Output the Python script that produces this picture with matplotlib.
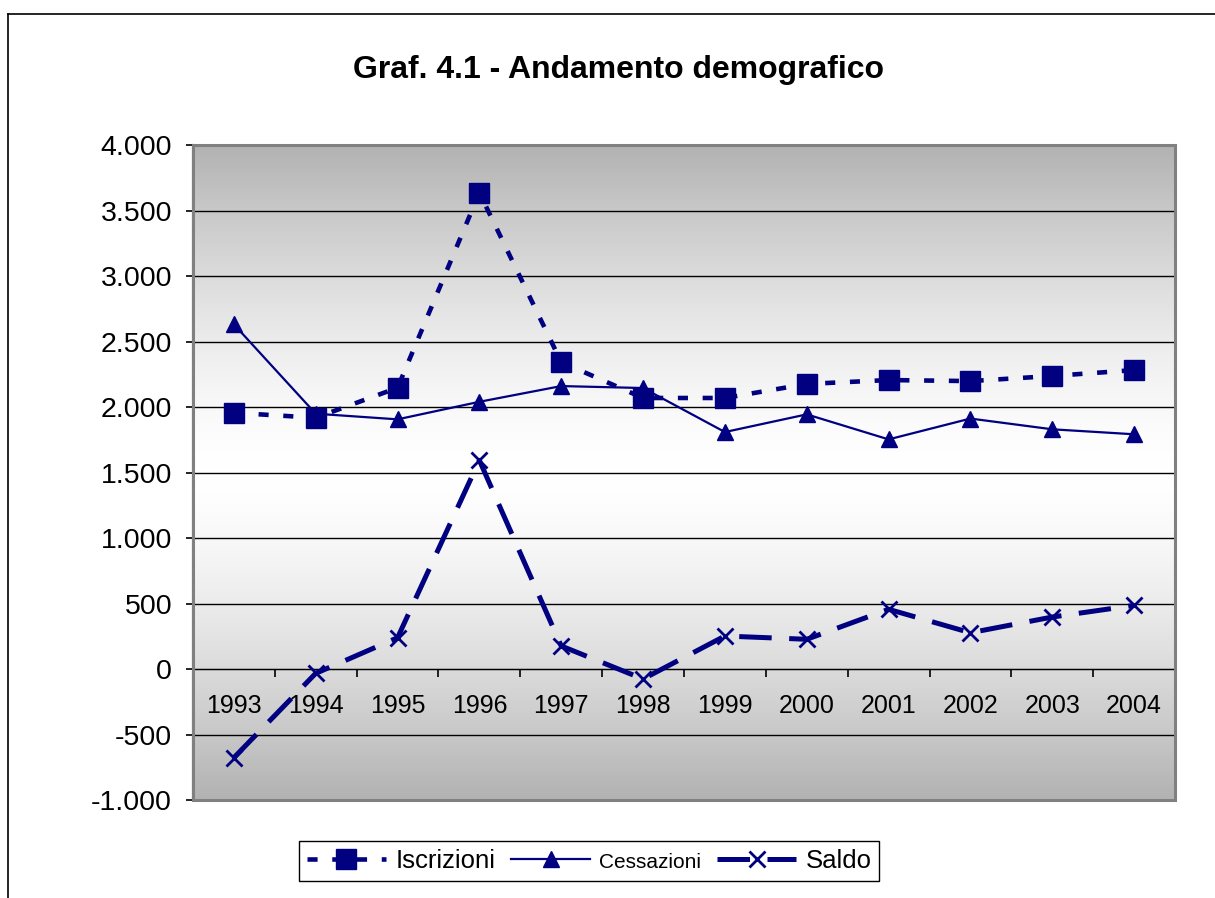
import numpy as np
import matplotlib
matplotlib.use('Agg')
import matplotlib.pyplot as plt
from matplotlib.patches import Rectangle
from matplotlib.lines import Line2D
from matplotlib.ticker import FuncFormatter, FixedLocator

plt.rcParams['font.family'] = ['Liberation Sans', 'DejaVu Sans']

# Dati
anni = ['1993', '1994', '1995', '1996', '1997', '1998',
        '1999', '2000', '2001', '2002', '2003', '2004']
iscrizioni = [1956, 1918, 2147, 3636, 2343, 2069, 2069, 2176, 2206, 2198, 2237, 2282]
cessazioni = [2631, 1949, 1906, 2040, 2160, 2145, 1809, 1944, 1753, 1912, 1830, 1792]
saldo = [-677, -33, 239, 1593, 176, -76, 252, 227, 456, 277, 397, 486]

navy = '#000080'

fig = plt.figure(figsize=(12.15, 8.98), dpi=100)
ax = fig.add_axes([0.1588, 0.1091, 0.8083, 0.7294])

# cornice del grafico (tagliata a destra e in basso)
fig.add_artist(Line2D([8 / 1215, 8 / 1215], [0, 1 - 14 / 898], color='black', lw=1.2))
fig.add_artist(Line2D([8 / 1215, 1], [1 - 14 / 898, 1 - 14 / 898], color='black', lw=1.2))

x = np.arange(len(anni))
ax.set_xlim(-0.5, len(anni) - 0.5)
ax.set_ylim(-1000, 4000)

# sfondo sfumato: grigio ai bordi, bianco al centro
grad = 1 - np.abs(np.linspace(-1, 1, 256))[:, None] ** 1.5
ax.imshow(grad, extent=[-0.5, len(anni) - 0.5, -1000, 4000], aspect='auto',
          cmap=matplotlib.colors.LinearSegmentedColormap.from_list('g', ['#b2b2b2', '#ffffff']),
          zorder=0, interpolation='bicubic')

for yv in range(-500, 4001, 500):
    ax.axhline(yv, color='black', lw=1, zorder=1)

ax.plot(x, iscrizioni, color=navy, lw=3.3, dashes=(2.2, 3.2), marker='s', markersize=14.5,
        label='Iscrizioni', zorder=3)
ax.plot(x, cessazioni, color=navy, lw=1.6, marker='^', markersize=11,
        label='Cessazioni', zorder=3)
ax.plot(x, saldo, color=navy, lw=3.6, dashes=(6.5, 3.5), marker='x', markersize=12,
        markeredgewidth=2, label='Saldo', zorder=3)

# assi
for s in ['top', 'right']:
    ax.spines[s].set_visible(False)
ax.spines['bottom'].set_position(('data', 0))
ax.spines['bottom'].set_color('black')
ax.spines['left'].set_color('black')
ax.spines['left'].set_linewidth(1.5)
ax.add_patch(Rectangle((0, 0), 1, 1, transform=ax.transAxes, fill=False,
                       edgecolor='#808080', lw=2.2, clip_on=False, zorder=4))

ax.set_yticks(range(-1000, 4001, 500))
ax.yaxis.set_major_formatter(FuncFormatter(lambda v, p: '{:,.0f}'.format(v).replace(',', '.')))
ax.tick_params(axis='y', length=5, width=1.2, pad=10, labelsize=20.5)

ax.xaxis.set_major_locator(FixedLocator(np.arange(0.5, len(anni) - 1, 1)))
ax.xaxis.set_minor_locator(FixedLocator(x))
ax.set_xticklabels([], minor=False)
ax.set_xticks(x, anni, minor=True)
ax.tick_params(axis='x', which='major', length=6, width=1.2, direction='out')
ax.tick_params(axis='x', which='minor', length=0, pad=18, labelsize=18)

fig.text(0.509, 0.922, 'Graf. 4.1 - Andamento demografico', ha='center', va='center',
         fontsize=23, fontweight='bold')

leg = fig.legend(loc='center', bbox_to_anchor=(0.4848, 0.0412), ncol=3, fontsize=18.5,
                 frameon=True, fancybox=False, edgecolor='black', framealpha=1,
                 handlelength=3.1, handletextpad=0.35, columnspacing=0.6,
                 borderpad=0.3, borderaxespad=0)
leg.get_frame().set_linewidth(1)
leg.get_texts()[1].set_fontsize(15)

fig.savefig('out.png', dpi=100)
